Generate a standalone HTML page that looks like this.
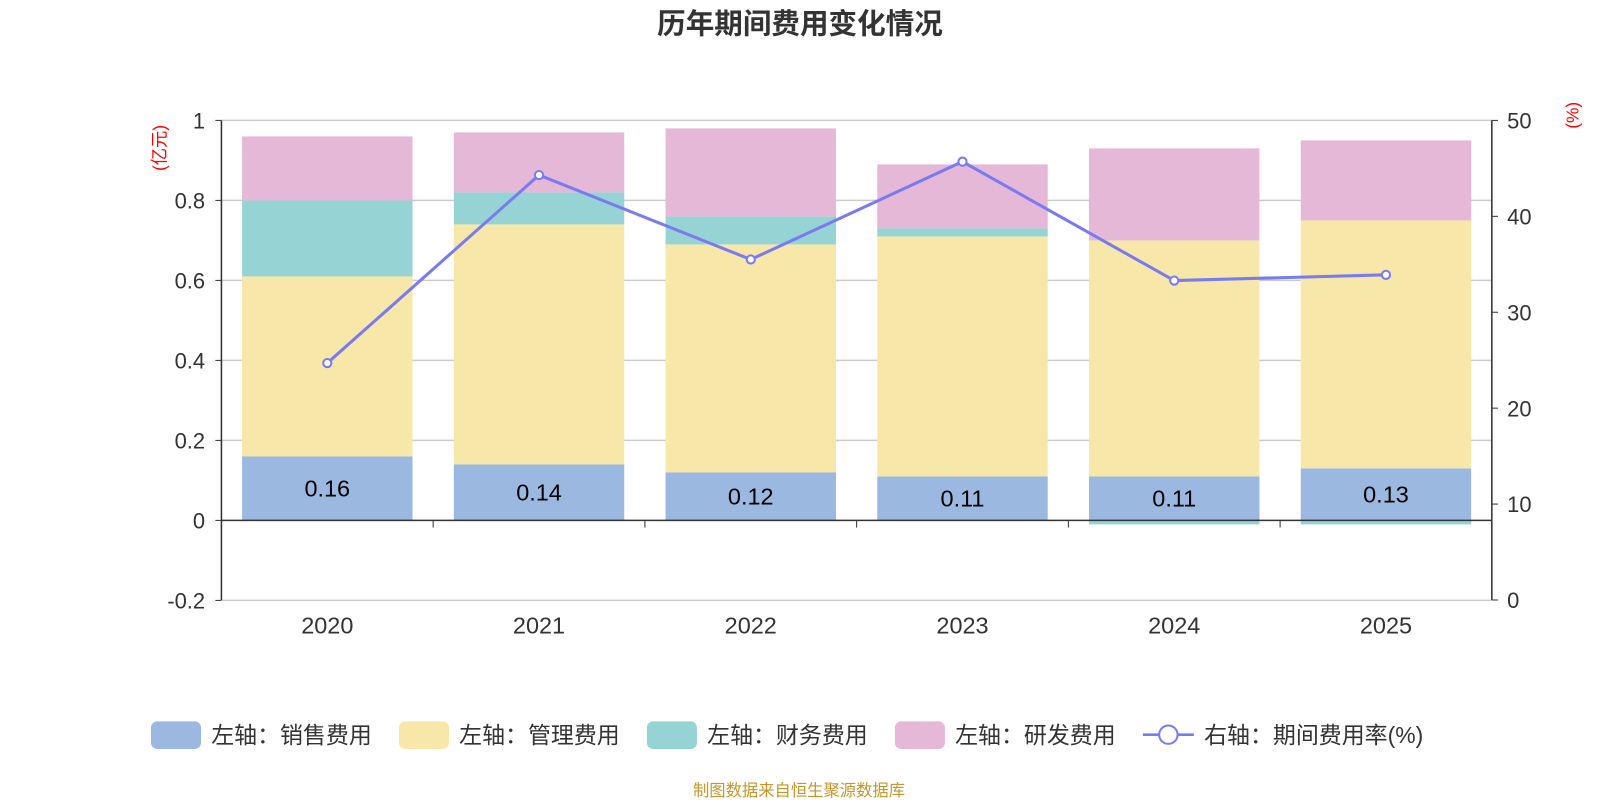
<!DOCTYPE html>
<html><head><meta charset="utf-8"><style>
body{margin:0;background:#fff;}
svg text{font-family:"Liberation Sans","Noto Sans CJK SC",sans-serif;}
</style></head><body>
<svg id="c" width="1600" height="800" viewBox="0 0 1568 784" xmlns="http://www.w3.org/2000/svg">
<text x="784" y="33" text-anchor="middle" font-size="28" font-weight="bold" fill="#333">历年期间费用变化情况</text>
<text transform="translate(162,145) rotate(-90)" text-anchor="middle" font-size="17" fill="#f00">(亿元)</text>
<text transform="translate(1547,113) rotate(-90)" text-anchor="middle" font-size="17" fill="#f00">(%)</text>
<g id="grid"></g><g id="bars"></g><g id="axes"></g><g id="line"></g>
<g id="legend" font-size="22.5" fill="#333">
<rect x="148" y="707" width="49" height="27" rx="6" fill="#9bb8e0"/>
<text x="207" y="728">左轴：销售费用</text>
<rect x="391" y="707" width="49" height="27" rx="6" fill="#f7e7a8"/>
<text x="450" y="728">左轴：管理费用</text>
<rect x="634" y="707" width="49" height="27" rx="6" fill="#96d3d4"/>
<text x="693" y="728">左轴：财务费用</text>
<rect x="877" y="707" width="49" height="27" rx="6" fill="#e6b8d8"/>
<text x="936" y="728">左轴：研发费用</text>
<line x1="1120" y1="720" x2="1170" y2="720" stroke="#7b7bf0" stroke-width="2.5"/>
<circle cx="1145" cy="720" r="9" fill="#fff" stroke="#7b7bf0" stroke-width="2"/>
<text x="1180" y="728">右轴：期间费用率(%)</text>
</g>
<text x="783" y="780" text-anchor="middle" font-size="16" fill="#c8962d">制图数据来自恒生聚源数据库</text>
</svg>
<script>
const years=["2020","2021","2022","2023","2024","2025"];
const sales=[0.16,0.14,0.12,0.11,0.11,0.13];
const admin=[0.45,0.60,0.57,0.60,0.59,0.62];
const finance=[0.19,0.08,0.07,0.02,-0.01,-0.01];
const rd=[0.16,0.15,0.22,0.16,0.23,0.20];
const rate=[24.7,44.3,35.5,45.7,33.3,33.9];
const leftTicks=[-0.2,0,0.2,0.4,0.6,0.8,1];
const rightTicks=[0,10,20,30,40,50];
const NS="http://www.w3.org/2000/svg";
const X0=217,X1=1462,band=(X1-X0)/years.length,bw=167;
const yL=v=>510-v*392, yR=v=>588-v*9.4, xc=i=>X0+band*(i+0.5);
function mk(p,t,a){const e=document.createElementNS(NS,t);for(const k in a)e.setAttribute(k,a[k]);document.getElementById(p).appendChild(e);return e;}
leftTicks.forEach(v=>{
 if(v!==0){const g=mk('grid','line',{x1:X0,x2:X1,y1:yL(v),y2:yL(v),stroke:'#ccc','stroke-width':1.5});
 
 }
 const t=mk('axes','text',{x:201,y:yL(v)+8,'text-anchor':'end','font-size':21.5,fill:'#333'});t.textContent=v;
 
 
 mk('axes','line',{x1:X0-6,x2:X0,y1:yL(v),y2:yL(v),stroke:'#333'});
});
rightTicks.forEach(v=>{
 const t=mk('axes','text',{x:1477,y:yR(v)+8,'font-size':21.5,fill:'#333'});t.textContent=v;
 
 
 mk('axes','line',{x1:X1,x2:X1+6,y1:yR(v),y2:yR(v),stroke:'#333'});
});
mk('axes','line',{x1:X0,x2:X0,y1:118,y2:588,stroke:'#333','stroke-width':1.5});
mk('axes','line',{x1:X1,x2:X1,y1:118,y2:588,stroke:'#333','stroke-width':1.5});
mk('axes','line',{x1:X0,x2:X1,y1:510,y2:510,stroke:'#333','stroke-width':1.5});
years.forEach((y,i)=>{
 if(i>0)mk('axes','line',{x1:X0+band*i,x2:X0+band*i,y1:510,y2:517,stroke:'#333'});
 const t=mk('axes','text',{x:xc(i),y:621,'text-anchor':'middle','font-size':23,fill:'#333'});t.textContent=y;
 
 
 let pos=0,neg=0;
 [[sales,'#9bb8e0','sales'],[admin,'#f7e7a8','admin'],[finance,'#96d3d4','finance'],[rd,'#e6b8d8','rd']].forEach(([arr,col,nm])=>{
  const v=arr[i];let a,b;
  if(v>=0){a=pos;b=pos+v;pos=b;}else{a=neg;b=neg+v;neg=b;}
  const r=mk('bars','rect',{x:xc(i)-bw/2,width:bw,y:Math.min(yL(a),yL(b)),height:Math.abs(yL(a)-yL(b)),fill:col});
  
  
 });
 const l=mk('bars','text',{x:xc(i),y:yL(sales[i]/2)+8,'text-anchor':'middle','font-size':23,fill:'#000'});l.textContent=sales[i];
 
 
});
const pl=mk('line','polyline',{points:rate.map((v,i)=>xc(i)+','+yR(v)).join(' '),fill:'none',stroke:'#7b7bf0','stroke-width':3});


rate.forEach((v,i)=>{const c=mk('line','circle',{cx:xc(i),cy:yR(v),r:4,fill:'#fff',stroke:'#7b7bf0','stroke-width':2});
 
 });
</script>
</body></html>
